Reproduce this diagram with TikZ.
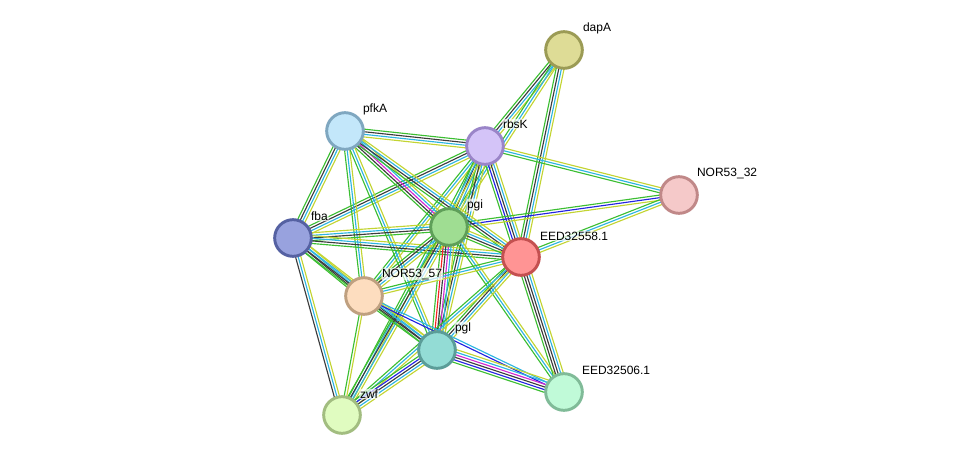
\documentclass[tikz,border=0pt]{standalone}
\usepackage{fontspec}
\setmainfont{Liberation Sans}
\usepackage{tikz}
\usetikzlibrary{calc,backgrounds}
\usepackage{xcolor}
\definecolor{nbr}{RGB}{60,190,50}
\definecolor{fus}{RGB}{245,35,35}
\definecolor{coo}{RGB}{35,35,225}
\definecolor{cex}{RGB}{60,60,60}
\definecolor{exp}{RGB}{210,40,210}
\definecolor{dbs}{RGB}{45,180,225}
\definecolor{txt}{RGB}{195,212,50}
\tikzset{
  prot/.style={circle,minimum size=27.5pt,inner sep=0pt,line width=2.2pt},
  lbl/.style={anchor=west,font=\fontsize{9}{10}\selectfont,inner sep=0.6pt,
    fill=white,fill opacity=0.7,text opacity=1,rounded corners=1pt},
  ev/.style={line width=0.85pt},
}
% one bundle of evidence lines between two nodes
\newcommand{\evid}[3]{%
  \foreach \ecol [count=\n] in {#3} {\xdef\nlines{\n}}
  \foreach \ecol [count=\idx] in {#3} {
    \pgfmathsetmacro\off{(\idx-(\nlines+1)/2)*1.95}
    \draw[ev,\ecol] ($(#1)!\off pt!90:(#2)$) -- ($(#2)!\off pt!-90:(#1)$);
  }
}

\begin{document}
\begin{tikzpicture}[x=0.75pt,y=-0.75pt]
  \useasboundingbox (0,0) rectangle (976,461);
  % proteins
  \node[prot,fill={rgb,255:red,222;green,220;blue,150},draw={rgb,255:red,155;green,155;blue,85}] (dapA) at (564,50) {};
  \node[prot,fill={rgb,255:red,195;green,231;blue,250},draw={rgb,255:red,127;green,167;blue,192}] (pfkA) at (345,131) {};
  \node[prot,fill={rgb,255:red,212;green,196;blue,248},draw={rgb,255:red,154;green,133;blue,200}] (rbsK) at (485,146) {};
  \node[prot,fill={rgb,255:red,245;green,201;blue,201},draw={rgb,255:red,192;green,136;blue,136}] (nor32) at (679,195) {};
  \node[prot,fill={rgb,255:red,152;green,162;blue,222},draw={rgb,255:red,85;green,97;blue,162}] (fba) at (293,238) {};
  \node[prot,fill={rgb,255:red,159;green,221;blue,146},draw={rgb,255:red,95;green,159;blue,89}] (pgi) at (449,227) {};
  \node[prot,fill={rgb,255:red,255;green,148;blue,148},draw={rgb,255:red,196;green,80;blue,80}] (eed58) at (521,257) {};
  \node[prot,fill={rgb,255:red,253;green,221;blue,191},draw={rgb,255:red,191;green,160;blue,128}] (nor57) at (364,296) {};
  \node[prot,fill={rgb,255:red,147;green,220;blue,213},draw={rgb,255:red,91;green,157;blue,152}] (pgl) at (437,350) {};
  \node[prot,fill={rgb,255:red,192;green,250;blue,216},draw={rgb,255:red,128;green,187;blue,152}] (eed06) at (564,392) {};
  \node[prot,fill={rgb,255:red,224;green,252;blue,192},draw={rgb,255:red,162;green,189;blue,128}] (zwf) at (342,415) {};

  % names
  \node[lbl] (dapA-l) at ([shift={(18,-22)}]dapA.center) {dapA};
  \node[lbl] (pfkA-l) at ([shift={(17,-22)}]pfkA.center) {pfkA};
  \node[lbl] (rbsK-l) at ([shift={(17,-22)}]rbsK.center) {rbsK};
  \node[lbl] (nor32-l) at ([shift={(17,-22)}]nor32.center) {NOR53\_32};
  \node[lbl] (fba-l) at ([shift={(17,-22)}]fba.center) {fba};
  \node[lbl] (pgi-l) at ([shift={(17,-22)}]pgi.center) {pgi};
  \node[lbl] (eed58-l) at ([shift={(18,-21)}]eed58.center) {EED32558.1};
  \node[lbl] (nor57-l) at ([shift={(17,-22)}]nor57.center) {NOR53\_57};
  \node[lbl] (pgl-l) at ([shift={(17,-22)}]pgl.center) {pgl};
  \node[lbl] (eed06-l) at ([shift={(17,-22)}]eed06.center) {EED32506.1};
  \node[lbl] (zwf-l) at ([shift={(17,-21)}]zwf.center) {zwf};

  % edges
  \begin{pgfonlayer}{background}
    \evid{dapA}{rbsK}{nbr,cex,dbs,txt}
    \evid{dapA}{pgi}{nbr,dbs,txt}
    \evid{dapA}{eed58}{nbr,cex,dbs,txt}
    \evid{rbsK}{nor32}{nbr,dbs,txt}
    \evid{rbsK}{eed58}{nbr,coo,cex,dbs,txt}
    \evid{rbsK}{pfkA}{nbr,cex,dbs,txt}
    \evid{rbsK}{fba}{nbr,cex,dbs,txt}
    \evid{rbsK}{pgi}{nbr,cex,dbs,txt}
    \evid{rbsK}{nor57}{nbr,dbs,txt}
    \evid{rbsK}{pgl}{nbr,cex,dbs,txt}
    \evid{rbsK}{zwf}{nbr,dbs,txt}
    \evid{nor32}{pgi}{nbr,coo,txt}
    \evid{nor32}{eed58}{nbr,dbs,txt}
    \evid{pfkA}{fba}{nbr,cex,dbs,txt}
    \evid{pfkA}{pgi}{nbr,cex,exp,dbs,txt}
    \evid{pfkA}{eed58}{nbr,cex,dbs,txt}
    \evid{pfkA}{nor57}{nbr,dbs,txt}
    \evid{pfkA}{pgl}{nbr,dbs,txt}
    \evid{fba}{pgi}{nbr,cex,dbs,txt}
    \evid{fba}{eed58}{nbr,cex,dbs,txt}
    \evid{fba}{nor57}{nbr,cex,dbs,txt}
    \evid{fba}{pgl}{nbr,cex,dbs,txt}
    \evid{fba}{zwf}{cex,dbs,txt}
    \evid{pgi}{eed58}{nbr,cex,dbs,txt}
    \evid{pgi}{nor57}{nbr,cex,dbs,txt}
    \evid{pgi}{pgl}{nbr,fus,cex,exp,dbs,txt}
    \evid{pgi}{zwf}{nbr,cex,dbs,txt}
    \evid{pgi}{eed06}{nbr,dbs,txt}
    \evid{eed58}{nor57}{nbr,dbs,txt}
    \evid{eed58}{pgl}{nbr,cex,dbs,txt}
    \evid{eed58}{eed06}{nbr,cex,cex,dbs,txt}
    \evid{eed58}{zwf}{nbr,dbs,txt}
    \evid{nor57}{pgl}{nbr,cex,dbs,txt}
    \evid{nor57}{eed06}{coo,dbs}
    \evid{nor57}{zwf}{nbr,txt}
    \evid{pgl}{eed06}{nbr,coo,cex,exp,dbs,txt}
    \evid{pgl}{zwf}{nbr,coo,cex,dbs,txt}
  \end{pgfonlayer}
\end{tikzpicture}
\end{document}
